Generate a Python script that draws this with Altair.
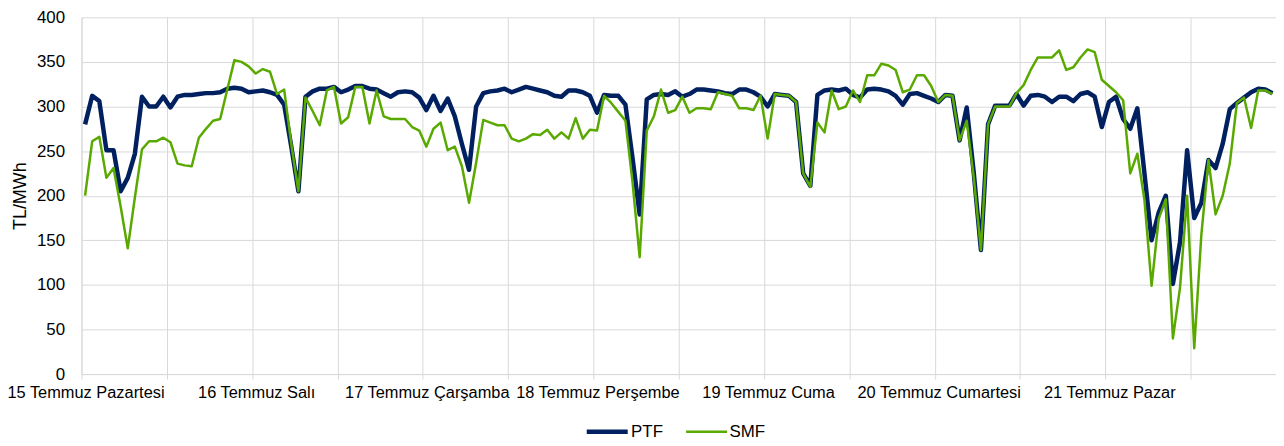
import altair as alt
import pandas as pd

days = ["15 Temmuz Pazartesi", "16 Temmuz Salı", "17 Temmuz Çarşamba", "18 Temmuz Perşembe",
        "19 Temmuz Cuma", "20 Temmuz Cumartesi", "21 Temmuz Pazar"]

ptf = [280, 312, 306, 251, 251, 205, 220, 247, 311, 300, 300, 311, 299, 311, 313, 313, 314, 315, 315, 316, 320, 321, 320, 316,
       317, 318, 316, 313, 302, 255, 205, 311, 317, 320, 320, 322, 316, 319, 323, 323, 320, 319, 315, 311, 316, 317, 316, 310,
       296, 312, 295, 309, 289, 258, 229, 300, 315, 317, 318, 320, 316, 319, 322, 320, 318, 316, 312, 311, 318, 318, 316, 312,
       293, 313, 312, 312, 302, 242, 179, 308, 313, 314, 313, 317, 311, 314, 319, 319, 318, 317, 315, 314, 319, 319, 316, 311,
       300, 314, 313, 312, 305, 225, 211, 313, 318, 319, 318, 320, 313, 310, 319, 320, 319, 317, 312, 302, 314, 315, 312, 309,
       305, 313, 312, 262, 299, 225, 139, 280, 301, 301, 301, 314, 301, 312, 313, 311, 305, 311, 311, 306, 314, 316, 311, 277,
       305, 311, 286, 275, 298, 225, 150, 181, 200, 101, 148, 251, 175, 192, 240, 231, 258, 297, 304, 310, 316, 320, 319, 315]

smf = [200, 261, 266, 220, 231, 188, 141, 198, 252, 261, 261, 265, 260, 236, 234, 233, 265, 275, 284, 286, 319, 352, 350, 345,
       337, 342, 339, 314, 319, 258, 205, 310, 295, 279, 318, 322, 281, 288, 322, 322, 281, 318, 289, 286, 286, 286, 277, 273,
       255, 275, 282, 251, 255, 233, 192, 237, 285, 282, 279, 279, 264, 261, 264, 269, 268, 274, 264, 271, 264, 287, 264, 274,
       273, 312, 304, 294, 284, 215, 131, 273, 289, 319, 293, 296, 311, 293, 298, 298, 297, 316, 314, 312, 298, 298, 296, 312,
       264, 314, 313, 312, 305, 225, 210, 282, 271, 318, 297, 300, 318, 305, 335, 335, 348, 346, 341, 316, 319, 335, 335, 323,
       305, 313, 312, 262, 284, 220, 139, 280, 300, 300, 300, 315, 324, 341, 355, 355, 355, 363, 341, 344, 355, 364, 361, 330,
       323, 316, 307, 225, 247, 195, 99, 174, 196, 40, 97, 200, 29, 156, 240, 179, 200, 236, 304, 310, 276, 318, 318, 314]

series_names = ["PTF", "SMF"]
series_colors = ["#002060", "#5AA900"]
series_widths = [4.5, 2.5]

n = len(ptf)
df = pd.DataFrame({
    "hour": list(range(n)) * 2,
    "value": ptf + smf,
    "series": ["PTF"] * n + ["SMF"] * n,
})

grid_vals = [h - 0.5 for h in range(0, n + 1, 12)]
label_expr = "[" + ",".join("'" + d + "'" for d in days) + "][(datum.value + 0.5) / 24] || ''"

FONT = "Liberation Sans"
GRID = "#d9d9d9"

leg = alt.Legend(title=None, orient="none", legendX=506, legendY=394, direction="horizontal",
                 symbolType="stroke", symbolSize=1700, labelFontSize=17, labelFont=FONT,
                 labelColor="#000000", columnPadding=17, labelOffset=1)

chart = alt.Chart(df).mark_line(strokeJoin="round").encode(
    x=alt.X("hour:Q",
            scale=alt.Scale(domain=[-0.5, n - 0.5], nice=False, zero=False),
            axis=alt.Axis(values=grid_vals, labelExpr=label_expr, title=None, grid=True,
                          gridColor=GRID, tickColor=GRID, tickSize=5, domainColor=GRID,
                          labelOffset=4, labelPadding=6, labelFontSize=16.5, labelFont=FONT,
                          labelColor="#000000", labelOverlap=False, labelFlush=False,
                          labelBound=False)),
    y=alt.Y("value:Q",
            scale=alt.Scale(domain=[0, 400], nice=False),
            axis=alt.Axis(values=list(range(0, 401, 50)), title="TL/MWh", grid=True,
                          gridColor=GRID, domainColor=GRID, ticks=False, labelPadding=17,
                          labelFontSize=17, labelFont=FONT, labelColor="#000000",
                          titleFontSize=18, titleFont=FONT, titleFontWeight="normal",
                          titleColor="#000000", titlePadding=7)),
    color=alt.Color("series:N", scale=alt.Scale(domain=series_names, range=series_colors), legend=leg),
    strokeWidth=alt.StrokeWidth("series:N", scale=alt.Scale(domain=series_names, range=series_widths), legend=leg),
).properties(
    width=1202, height=359,
    autosize=alt.AutoSizeParams(type="none"),
    padding={"left": 74, "top": 8, "right": 0, "bottom": 71},
).configure_view(stroke=None)

chart.save("out.html", embed_options={"renderer": "svg", "actions": False})
